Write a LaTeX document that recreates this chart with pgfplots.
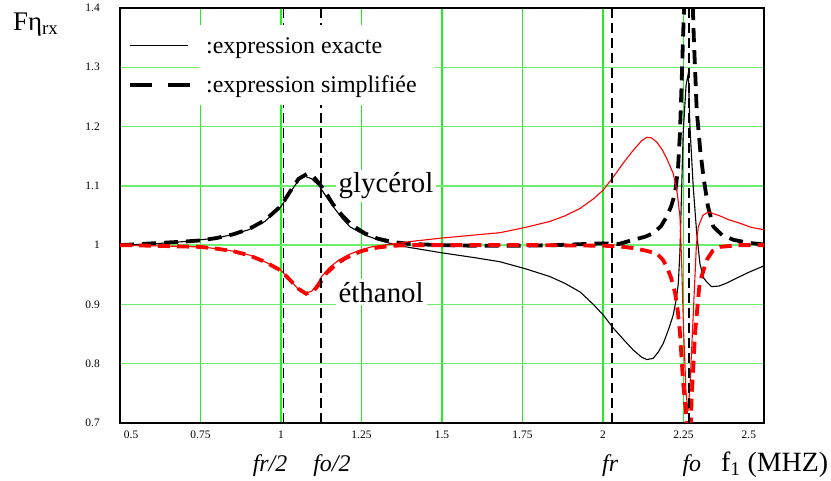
\documentclass[border=0pt]{standalone}
\usepackage{fontspec}
\setmainfont{Liberation Serif}
\usepackage{pgfplots}
\pgfplotsset{compat=1.18}
\definecolor{gridx}{RGB}{40,235,40}
\definecolor{gridy}{RGB}{110,238,110}
\begin{document}
\begin{tikzpicture}
\begin{axis}[name=ax, scale only axis, width=644bp, height=415bp,
  xmin=0.5, xmax=2.5, ymin=0.7, ymax=1.4,
  xtick={0.5,0.75,1,1.25,1.5,1.75,2,2.25,2.5},
  xticklabels={{\makebox[0pt][l]{\hspace{4bp}0.5}},0.75,1,1.25,1.5,1.75,2,2.25,{\makebox[0pt][r]{2.5\hspace{8bp}}}},
  ytick={0.7,0.8,0.9,1,1.1,1.2,1.3,1.4},
  yticklabels={0.7,0.8,0.9,1,1.1,1.2,1.3,1.4},
  major tick length=0pt,
  grid=major,
  major x grid style={gridx, line width=1.4bp},
  major y grid style={gridy, line width=1.3bp},
  axis line style={black, line width=1.2bp},
  tick label style={font=\fontsize{11.5}{13}\selectfont},
  xticklabel style={inner sep=0pt, anchor=north, yshift=-8bp},
  yticklabel style={inner sep=0pt, anchor=east, xshift=-20bp},
  /pgf/number format/assume math mode=true,
  clip mode=individual,
  legend style={at={(rel axis cs:0,1)}, anchor=north west, xshift=5bp, yshift=-26bp,
    draw=none, fill=none, font=\fontsize{24}{28}\selectfont,
    row sep=19bp, nodes={inner sep=1bp},
    /tikz/every odd column/.append style={column sep=13bp}},
  legend cell align=left,
  legend image code/.code={\draw[#1] (0bp,0bp) -- (58bp,0bp);},
]
% glycerol, exact expression
\addplot[black, line width=1.1bp] coordinates {
(0.5,1.000) (0.6,1.002) (0.7,1.006) (0.75,1.009) (0.8,1.012) (0.85,1.018) (0.9,1.026) (0.95,1.04)
(1.0,1.065) (1.03,1.09) (1.055,1.11) (1.075,1.116) (1.095,1.112) (1.12,1.099) (1.14,1.082)
(1.162,1.065) (1.19,1.045) (1.214,1.031) (1.26,1.017) (1.318,1.006) (1.36,1.000) (1.4,0.996)
(1.5,0.987) (1.6,0.979) (1.68,0.972) (1.76,0.96) (1.835,0.947) (1.88,0.936) (1.929,0.921)
(1.97,0.9) (2.001,0.882) (2.032,0.860) (2.065,0.84) (2.094,0.823) (2.12,0.811) (2.136,0.807)
(2.156,0.809) (2.172,0.82) (2.187,0.834) (2.205,0.86) (2.218,0.882) (2.228,0.91) (2.234,0.936)
(2.239,0.99) (2.249,1.189) (2.258,1.27) (2.265,1.29) (2.27,1.2) (2.28,1.1) (2.291,1.02)
(2.301,0.969) (2.312,0.945) (2.322,0.938) (2.337,0.930) (2.36,0.931) (2.384,0.936) (2.425,0.947)
(2.46,0.956) (2.5,0.965)};
% glycerol, simplified expression
\addplot[black, line width=3.8bp, dash pattern=on 14bp off 8bp,
  legend image code/.code={\draw[black, line width=4bp, dash pattern=on 22bp off 16bp] (0bp,0bp) -- (60bp,0bp);}] coordinates {
(0.5,1.0) (0.6,1.003) (0.7,1.006) (0.75,1.008) (0.8,1.012) (0.85,1.018) (0.9,1.027) (0.95,1.042)
(1.0,1.066) (1.03,1.092) (1.055,1.112) (1.08,1.12) (1.1,1.116) (1.12,1.103) (1.14,1.088)
(1.16,1.07) (1.19,1.05) (1.22,1.034) (1.26,1.02) (1.3,1.011) (1.35,1.005) (1.4,1.002) (1.5,1.0)
(1.6,0.999) (1.75,0.999) (1.85,1.0) (1.95,1.002) (2.0,1.003) (2.05,1.002) (2.094,1.009)
(2.13,1.014) (2.156,1.02) (2.18,1.032) (2.198,1.048) (2.212,1.066) (2.224,1.088) (2.233,1.13)
(2.239,1.189) (2.244,1.27) (2.248,1.341) (2.255,1.45) (2.266,1.6) (2.276,1.45) (2.282,1.35)
(2.291,1.228) (2.302,1.16) (2.312,1.115) (2.326,1.065) (2.343,1.031) (2.37,1.017) (2.405,1.009)
(2.45,1.004) (2.5,1.001)};
% ethanol, exact expression
\addplot[red, line width=1.1bp, forget plot] coordinates {
(0.5,1.0) (0.6,0.999) (0.75,0.997) (0.8,0.994) (0.85,0.99) (0.904,0.983) (0.95,0.972)
(0.999,0.958) (1.03,0.94) (1.055,0.925) (1.075,0.919) (1.095,0.922) (1.11,0.932) (1.126,0.947)
(1.15,0.962) (1.18,0.975) (1.21,0.984) (1.248,0.992) (1.28,0.997) (1.32,1.0) (1.4,1.006)
(1.5,1.012) (1.6,1.017) (1.68,1.021) (1.76,1.03) (1.835,1.04) (1.88,1.049) (1.929,1.062)
(1.97,1.078) (2.001,1.093) (2.032,1.115) (2.065,1.14) (2.094,1.16) (2.12,1.176) (2.136,1.182)
(2.15,1.181) (2.167,1.174) (2.185,1.16) (2.198,1.146) (2.218,1.121) (2.23,1.09) (2.239,1.048)
(2.244,0.975) (2.25,0.86) (2.258,0.75) (2.264,0.72) (2.27,0.76) (2.28,0.88) (2.29,1.0)
(2.296,1.031) (2.31,1.05) (2.327,1.056) (2.36,1.05) (2.39,1.043) (2.425,1.037) (2.46,1.03)
(2.5,1.026)};
% ethanol, simplified expression
\addplot[red, line width=3.8bp, dash pattern=on 12bp off 7bp, forget plot] coordinates {
(0.5,1.0) (0.6,0.999) (0.75,0.997) (0.8,0.994) (0.85,0.99) (0.9,0.983) (0.95,0.972) (1.0,0.957)
(1.03,0.94) (1.055,0.926) (1.078,0.918) (1.1,0.922) (1.12,0.935) (1.14,0.952) (1.17,0.967)
(1.2,0.978) (1.25,0.99) (1.3,0.996) (1.35,0.999) (1.4,1.0) (1.6,1.0) (1.8,1.0) (2.0,0.999)
(2.05,0.998) (2.094,0.995) (2.13,0.991) (2.167,0.986) (2.185,0.976) (2.198,0.964) (2.212,0.944)
(2.224,0.919) (2.232,0.89) (2.239,0.852) (2.249,0.767) (2.26,0.705) (2.267,0.6) (2.275,0.739)
(2.286,0.852) (2.3,0.936) (2.322,0.975) (2.34,0.99) (2.363,0.997) (2.42,1.0) (2.5,1.0)};
% reference frequencies fr/2, fo/2, fr, fo
\addplot[black, line width=1.8bp, dash pattern=on 10bp off 5bp, forget plot] coordinates {(1.008,0.7) (1.008,1.4)};
\addplot[black, line width=1.8bp, dash pattern=on 10bp off 5bp, forget plot] coordinates {(1.125,0.7) (1.125,1.4)};
\addplot[black, line width=1.8bp, dash pattern=on 10bp off 5bp, forget plot] coordinates {(2.028,0.7) (2.028,1.4)};
\addplot[black, line width=1.8bp, dash pattern=on 10bp off 5bp, forget plot] coordinates {(2.267,0.7) (2.267,1.4)};
\fill[white] (rel axis cs:0.1227,0.959) rectangle (rel axis cs:0.489,0.766);
\node[fill=white, inner sep=3bp, anchor=base, font=\fontsize{29}{33}\selectfont] at (axis cs:1.326,1.088) {glycérol};
\node[fill=white, inner sep=3bp, anchor=base, font=\fontsize{29}{33}\selectfont] at (axis cs:1.311,0.904) {éthanol};
\node[anchor=base, yshift=-48bp, font=\fontsize{24}{28}\selectfont\itshape] at (axis cs:0.966,0.7) {fr/2};
\node[anchor=base, yshift=-48bp, font=\fontsize{24}{28}\selectfont\itshape] at (axis cs:1.158,0.7) {fo/2};
\node[anchor=base, yshift=-48bp, font=\fontsize{24}{28}\selectfont\itshape] at (axis cs:2.022,0.7) {fr};
\node[anchor=base, yshift=-48bp, font=\fontsize{24}{28}\selectfont\itshape] at (axis cs:2.276,0.7) {fo};
\node[anchor=base west, inner sep=0pt, yshift=-48bp, font=\fontsize{28}{32}\selectfont] at (axis cs:2.366,0.7) {f\textsubscript{1} (MHZ)};
\node[anchor=base west, inner sep=0pt, xshift=-107bp, yshift=-23bp, font=\fontsize{27}{31}\selectfont] at (rel axis cs:0,1) {Fη\textsubscript{rx}};
\legend{:expression exacte, :expression simplifiée}
\end{axis}
\pgfresetboundingbox
\path[use as bounding box] ([xshift=-120bp,yshift=-58bp]ax.south west) rectangle ([xshift=67bp,yshift=8bp]ax.north east);
\end{tikzpicture}
\end{document}
